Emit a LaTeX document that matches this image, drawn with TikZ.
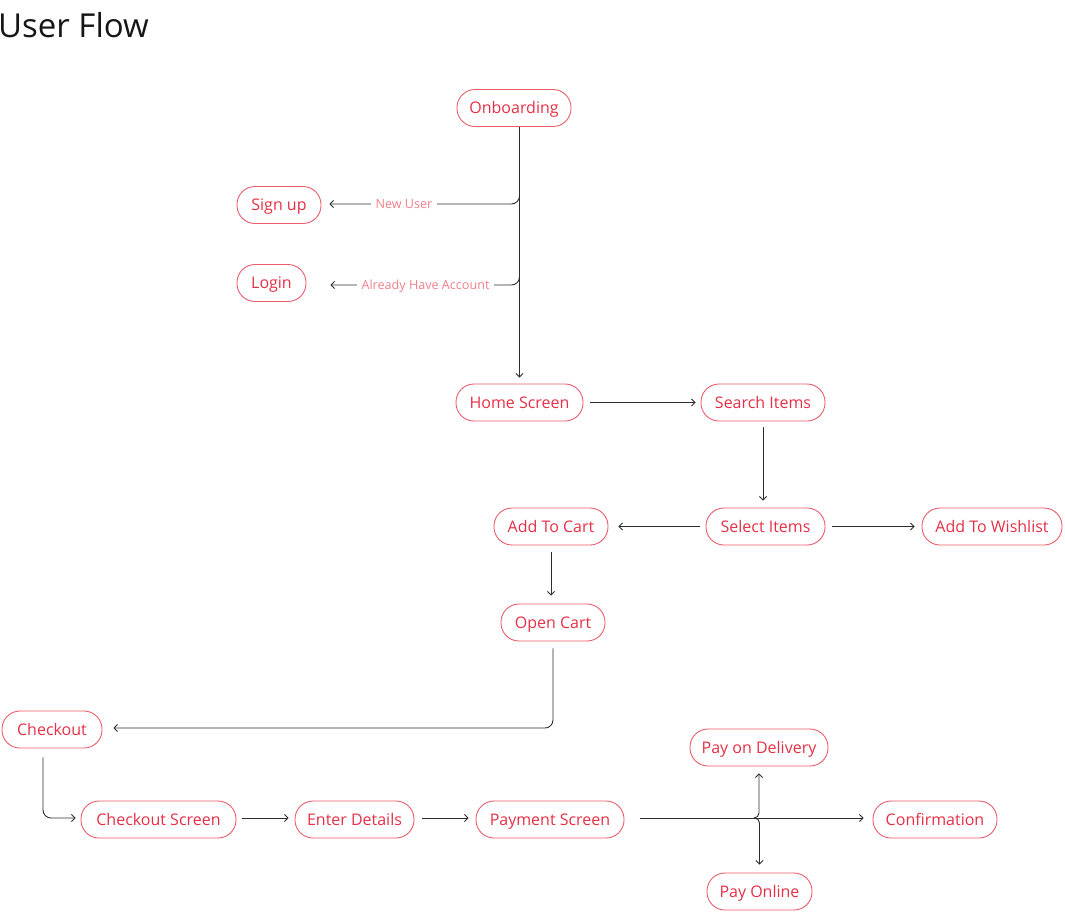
\documentclass[tikz,border=0pt]{standalone}
\usepackage{fontspec}
\setmainfont{Open Sans}
\usetikzlibrary{arrows.meta}
\definecolor{txtred}{RGB}{228,48,70}
\definecolor{boxred}{RGB}{234,92,108}
\definecolor{lblred}{RGB}{240,128,140}
\definecolor{linegray}{RGB}{45,45,45}
\definecolor{titlegray}{RGB}{22,22,22}
\tikzset{
  box/.style={draw=boxred, line width=0.9pt, text=txtred, rounded corners=18pt,
    minimum height=37pt, inner xsep=6pt, inner ysep=0pt,
    text height=12pt, text depth=0.6pt,
    font=\fontsize{16}{19}\selectfont},
  lbl/.style={fill=white, text=lblred, inner xsep=5pt, inner ysep=1pt,
    text height=9pt, text depth=0.5pt,
    font=\fontsize{12.6}{15}\selectfont},
  arr/.style={draw=linegray, line width=0.9pt,
    -{Straight Barb[length=3.5pt,width=7pt,line width=0.9pt]}},
  ln/.style={draw=linegray, line width=0.9pt}
}
\begin{document}
\begin{tikzpicture}[x=1pt,y=-1pt]
\useasboundingbox (0,0) rectangle (1065,911);
\node[anchor=base west, text=titlegray, inner sep=0pt, font=\fontsize{33}{40}\selectfont] (title) at (-2,37) {User Flow};

\node[box, minimum width=114pt] (onb) at (514,108) {Onboarding};
\node[box, minimum width=84pt] (signup) at (279,205) {Sign up};
\node[box, minimum width=69pt] (login) at (271.5,283) {Login};
\node[box, minimum width=127pt] (home) at (519.5,402.5) {Home Screen};
\node[box, minimum width=124pt] (search) at (763,402.5) {Search Items};
\node[box, minimum width=114pt] (cart) at (551,526.5) {Add To Cart};
\node[box, minimum width=119pt] (select) at (765.5,526.5) {Select Items};
\node[box, minimum width=140pt] (wish) at (992,526.5) {Add To Wishlist};
\node[box, minimum width=104pt] (open) at (553,622.5) {Open Cart};
\node[box, minimum width=100pt] (chk) at (52,729.5) {Checkout};
\node[box, minimum width=155pt] (chks) at (158.5,819.5) {Checkout Screen};
\node[box, minimum width=119pt] (enter) at (354.5,819.5) {Enter Details};
\node[box, minimum width=148pt] (pay) at (550,819.5) {Payment Screen};
\node[box, minimum width=138pt] (pod) at (759,747.5) {Pay on Delivery};
\node[box, minimum width=124pt] (conf) at (935,819.5) {Confirmation};
\node[box, minimum width=105pt] (online) at (759.5,891.5) {Pay Online};

% onboarding trunk
\coordinate (j1) at (519.5,192);
\coordinate (j2) at (519.5,273);
\draw[arr] (onb.south -| home.north) -- ([yshift=6pt]home.north);
\draw[arr, rounded corners=8pt] (j1) |- ([xshift=8pt]signup.east |- 0,204);
\node[lbl] (lnew) at (404,204) {New User};
\draw[arr, rounded corners=8pt] (j2) |- ([xshift=24pt]login.east |- 0,285);
\node[lbl] (lacc) at (425.5,285) {Already Have Account};

% main flow
\draw[arr] ([xshift=7pt]home.east) -- ([xshift=-5pt]search.west);
\draw[arr] ([yshift=-6pt]search.south) -- ([yshift=7pt]select.north -| search.south);
\draw[arr] ([xshift=-6pt]select.west) -- ([xshift=10pt]cart.east);
\draw[arr] ([xshift=7pt]select.east) -- ([xshift=-7pt]wish.west);
\draw[arr] ([yshift=-7pt]cart.south) -- ([yshift=8pt]open.north -| cart.south);
\draw[arr, rounded corners=8pt] ([yshift=-7pt]open.south) |- ([xshift=11pt]chk.east |- 0,728);
\draw[arr, rounded corners=8pt] ([xshift=-9pt,yshift=-9pt]chk.south) |- ([xshift=-5pt]chks.west |- 0,818);
\draw[arr] ([xshift=6pt]chks.east |- 0,818) -- ([xshift=-6pt]enter.west |- 0,818);
\draw[arr] ([xshift=8pt]enter.east |- 0,818) -- ([xshift=-7pt]pay.west |- 0,818);
\draw[arr] ([xshift=16pt]pay.east |- 0,818) -- ([xshift=-9pt]conf.west |- 0,818);
\coordinate (pj) at (754,818);
\draw[arr, rounded corners=5pt] (pj) -| ([yshift=-7pt]pod.south);
\draw[arr, rounded corners=5pt] (pj) -| ([yshift=8pt]online.north);
\end{tikzpicture}
\end{document}
